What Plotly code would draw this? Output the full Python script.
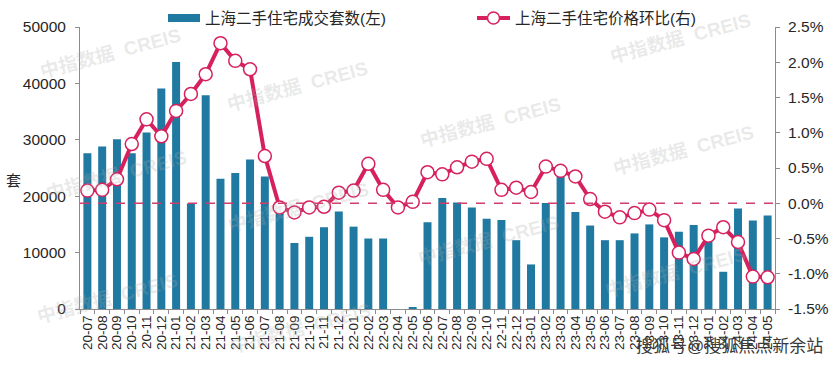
import plotly.graph_objects as go

# ---------------- data ----------------
months = [
    "20-07", "20-08", "20-09", "20-10", "20-11", "20-12",
    "21-01", "21-02", "21-03", "21-04", "21-05", "21-06",
    "21-07", "21-08", "21-09", "21-10", "21-11", "21-12",
    "22-01", "22-02", "22-03", "22-04", "22-05", "22-06",
    "22-07", "22-08", "22-09", "22-10", "22-11", "22-12",
    "23-01", "23-02", "23-03", "23-04", "23-05", "23-06",
    "23-07", "23-08", "23-09", "23-10", "23-11", "23-12",
    "24-01", "24-02", "24-03", "24-04", "24-05",
]
volume = [
    27600, 28800, 30100, 27600, 31300, 39100,
    43800, 18700, 37900, 23100, 24100, 26500,
    23500, 17000, 11700, 12800, 14500, 17300,
    14600, 12500, 12500, 0, 200, 15400,
    19700, 18900, 18000, 16000, 15800, 12200,
    7900, 18800, 23500, 17200, 14800, 12200,
    12200, 13400, 15000, 12700, 13700, 14900,
    12800, 6600, 17800, 15700, 16600,
]
mom = [
    0.18, 0.19, 0.34, 0.84, 1.19, 0.95,
    1.31, 1.55, 1.83, 2.27, 2.02, 1.90,
    0.67, -0.06, -0.13, -0.06, -0.05, 0.15,
    0.18, 0.56, 0.19, -0.06, 0.02, 0.44,
    0.41, 0.51, 0.59, 0.63, 0.19, 0.22,
    0.16, 0.52, 0.46, 0.38, 0.06, -0.12,
    -0.20, -0.14, -0.09, -0.24, -0.70, -0.79,
    -0.46, -0.34, -0.55, -1.04, -1.05,
]
left_tickvals = [0, 10000, 20000, 30000, 40000, 50000]
left_ticktext = ["0", "10000", "20000", "30000", "40000", "50000"]
right_tickvals = [-1.5, -1.0, -0.5, 0.0, 0.5, 1.0, 1.5, 2.0, 2.5]
right_ticktext = ["-1.5%", "-1.0%", "-0.5%", "0.0%", "0.5%", "1.0%", "1.5%", "2.0%", "2.5%"]
bar_name = "上海二手住宅成交套数(左)"
line_name = "上海二手住宅价格环比(右)"
y_title = "套"
watermark = "中指数据  CREIS"
source_mark = "搜狐号@搜狐焦点新余站"

# ---------------- style ----------------
BAR = "#1F79A1"
LINE = "#D6215E"
DASH = "#CF3F6A"
AXIS = "#8C8C8C"
TXT = "#262626"
FONT = "Liberation Sans, Noto Sans CJK SC, sans-serif"

W, H = 835, 365
L, R, T, B = 80, 60, 27, 56
PW, PH = W - L - R, H - T - B


def px(x):
    return (x - L) / PW


def py(y):
    return (H - B - y) / PH


fig = go.Figure()
fig.add_trace(go.Bar(
    x=months, y=volume, name=bar_name, marker_color=BAR,
    marker_line_width=0, yaxis="y",
))
fig.add_trace(go.Scatter(
    x=months, y=mom, name=line_name, mode="lines+markers", yaxis="y2",
    line=dict(color=LINE, width=4),
    marker=dict(size=13, color="white", line=dict(color=LINE, width=1.5)),
))

shapes = [
    # zero line of right axis
    dict(type="line", xref="paper", x0=0, x1=1, yref="y2", y0=0, y1=0,
         line=dict(color=DASH, width=1.5, dash="dash"), layer="above"),
    # legend: bar swatch
    dict(type="rect", xref="paper", yref="paper",
         x0=px(168), x1=px(200), y0=py(22), y1=py(14),
         fillcolor=BAR, line=dict(width=0)),
    # legend: line swatch
    dict(type="line", xref="paper", yref="paper",
         x0=px(477), x1=px(510), y0=py(18), y1=py(18),
         line=dict(color=LINE, width=4)),
    dict(type="circle", xref="paper", yref="paper",
         x0=px(487.5), x1=px(499.5), y0=py(24), y1=py(12),
         fillcolor="white", line=dict(color=LINE, width=1.5)),
]

annotations = [
    dict(text=bar_name, x=px(203), y=py(18), xref="paper", yref="paper",
         xanchor="left", yanchor="middle", showarrow=False,
         font=dict(size=15.5, color=TXT, family=FONT)),
    dict(text=line_name, x=px(513), y=py(18), xref="paper", yref="paper",
         xanchor="left", yanchor="middle", showarrow=False,
         font=dict(size=15.5, color=TXT, family=FONT)),
    dict(text=y_title, x=px(13), y=py(180), xref="paper", yref="paper",
         xanchor="center", yanchor="middle", showarrow=False,
         font=dict(size=15, color=TXT, family=FONT)),
    dict(text=source_mark, x=px(729), y=py(346), xref="paper", yref="paper",
         xanchor="center", yanchor="middle", showarrow=False,
         font=dict(size=17, color="#3a3a3a", family=FONT)),
]

wm_pos = [(110, 53), (116, 175), (107, 298),
          (297, 86), (298, 207), (300, 328),
          (490, 122), (488, 240),
          (680, 38), (683, 150), (675, 272)]
for (wx, wy) in wm_pos:
    annotations.append(dict(
        text="<b>" + watermark + "</b>", x=px(wx), y=py(wy), xref="paper", yref="paper",
        xanchor="center", yanchor="middle", showarrow=False, textangle=-15,
        font=dict(size=19, color="rgba(170,170,170,0.25)", family=FONT)))

fig.update_layout(
    template="none",
    width=W, height=H,
    margin=dict(l=L, r=R, t=T, b=B, pad=0, autoexpand=False),
    paper_bgcolor="white", plot_bgcolor="white",
    showlegend=False,
    bargap=0.46,
    font=dict(family=FONT, color=TXT),
    shapes=shapes,
    annotations=annotations,
    xaxis=dict(
        type="category", range=[-0.5, len(months) - 0.5], automargin=False,
        tickmode="array", tickvals=months, ticktext=months,
        tickangle=-90, tickfont=dict(size=13.5, color=TXT),
        ticks="outside", tickson="boundaries", ticklen=4, tickcolor=AXIS,
        showline=True, linecolor=AXIS, linewidth=1,
        showgrid=False, zeroline=False,
    ),
    yaxis=dict(
        range=[0, 50000], tickmode="array", automargin=False,
        tickvals=left_tickvals, ticktext=left_ticktext,
        tickfont=dict(size=15.5, color=TXT),
        ticks="outside", ticklen=4, tickcolor=AXIS, ticklabelstandoff=6,
        showline=True, linecolor=AXIS, linewidth=1,
        showgrid=False, zeroline=False,
    ),
    yaxis2=dict(
        overlaying="y", side="right", automargin=False,
        range=[-1.5, 2.5], tickmode="array",
        tickvals=right_tickvals, ticktext=right_ticktext,
        tickfont=dict(size=15.5, color=TXT),
        ticks="outside", ticklen=4, tickcolor=AXIS, ticklabelstandoff=5,
        showline=True, linecolor=AXIS, linewidth=1,
        showgrid=False, zeroline=False,
    ),
)

fig.write_html(
    "out.html",
    config={"displayModeBar": False},
    post_script="document.body.style.margin='0';document.body.style.padding='0';",
)
